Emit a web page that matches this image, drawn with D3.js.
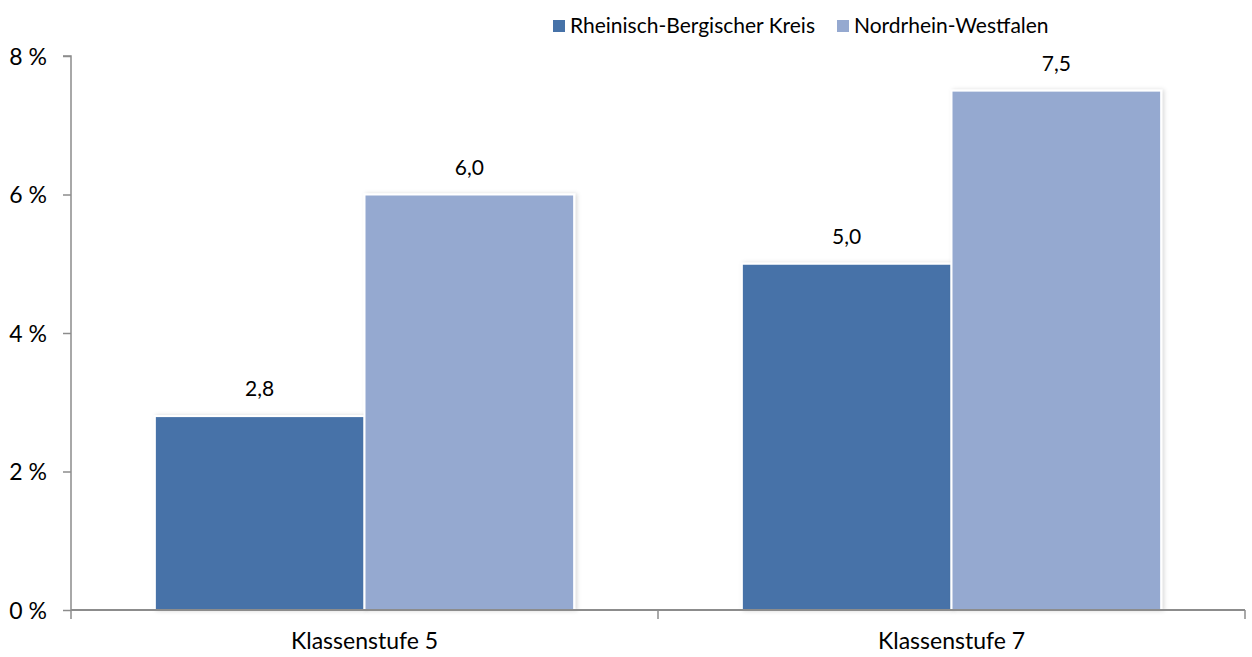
<!DOCTYPE html>
<html><head><meta charset="utf-8">
<script src="https://cdn.jsdelivr.net/npm/d3@7"></script>
<style>body{margin:0;background:#fff}svg{display:block}</style>
</head><body>
<svg id="c" width="1252" height="657"></svg>
<script>
const categories = ["Klassenstufe 5", "Klassenstufe 7"];
const seriesNames = ["Rheinisch-Bergischer Kreis", "Nordrhein-Westfalen"];
const rbkValues = [2.8, 5.0];
const nrwValues = [6.0, 7.5];
const yTicks = [0, 2, 4, 6, 8];
const colors = ["#4672A8", "#95A9D0"];

const FONT = "Lato, 'Open Sans', sans-serif";
const svg = d3.select("#c");
const m = {l: 71, r: 7, t: 56, b: 47};
const W = 1252, H = 657;
const x = d3.scaleBand().domain(categories).range([m.l, W - m.r]).paddingInner(0).paddingOuter(0);
const x1 = d3.scaleBand().domain(seriesNames).range([0, x.bandwidth()]).paddingInner(0).paddingOuter(0.4);
const y = d3.scaleLinear().domain([0, 8]).range([H - m.b, m.t]);

const defs = svg.append("defs");
const f = defs.append("filter").attr("id","sh").attr("x","-10%").attr("y","-10%").attr("width","130%").attr("height","130%");
f.append("feDropShadow").attr("dx",2).attr("dy",0).attr("stdDeviation",2).attr("flood-color","#000").attr("flood-opacity",0.15);

const data = categories.map((c, i) => ({cat: c, vals: [rbkValues[i], nrwValues[i]]}));
const g = svg.append("g");
data.forEach(d => {
  d.vals.forEach((v, j) => {
    const bx = x(d.cat) + x1(seriesNames[j]);
    g.append("rect")
      .attr("x", bx).attr("y", y(v))
      .attr("width", x1.bandwidth()).attr("height", y(0) - y(v))
      .attr("fill", colors[j]).attr("stroke", "#fff").attr("stroke-width", 2)
      .attr("filter", "url(#sh)");
    g.append("text")
      .attr("x", bx + x1.bandwidth() / 2).attr("y", y(v) - 27)
      .attr("dy", "0.35em")
      .attr("text-anchor", "middle").attr("font-size", 21).attr("font-family", FONT)
      .text(d3.format(".1f")(v).replace(".", ","));
  });
});

// Y axis
const ya = svg.append("g").attr("transform", `translate(${m.l},0)`)
  .call(d3.axisLeft(y).tickValues(yTicks).tickSize(8).tickPadding(16).tickFormat(d => d + " %"));
ya.select(".domain").attr("stroke", "#8c8c8c").attr("stroke-width", 1.5).attr("d", `M-8,${y(8)}H0V${y(0)}`);
ya.selectAll(".tick line").attr("stroke", "#8c8c8c").attr("stroke-width", 1.5);
ya.selectAll(".tick text").attr("font-size", 23).attr("font-family", FONT).attr("fill", "#000").attr("dy", "0.35em").attr("x", -24);

// X axis
const xa = svg.append("g").attr("transform", `translate(0,${y(0)})`)
  .call(d3.axisBottom(x).tickSize(0).tickPadding(20));
xa.select(".domain").attr("stroke", "#8c8c8c").attr("stroke-width", 2).attr("d", `M${m.l},0H${W - m.r}`);
xa.selectAll(".tick text").attr("font-size", 23).attr("font-family", FONT).attr("fill", "#000").attr("y", 31).attr("dy", "0.35em");
const bounds = [m.l, x(categories[1]), W - m.r];
xa.selectAll("line.sep").data(bounds).enter().append("line").attr("class","sep")
  .attr("x1", d => d).attr("x2", d => d).attr("y1", 0).attr("y2", 9)
  .attr("stroke", "#8c8c8c").attr("stroke-width", 1.5);

// Legend
const legPos = [553, 837];
const lg = svg.append("g");
seriesNames.forEach((s, i) => {
  lg.append("rect").attr("x", legPos[i]).attr("y", 20).attr("width", 12).attr("height", 12).attr("fill", colors[i]);
  lg.append("text").attr("x", legPos[i] + 17).attr("y", 26).attr("dy", "0.35em")
    .attr("font-size", 21).attr("font-family", FONT).text(s);
});
</script>
</body></html>
